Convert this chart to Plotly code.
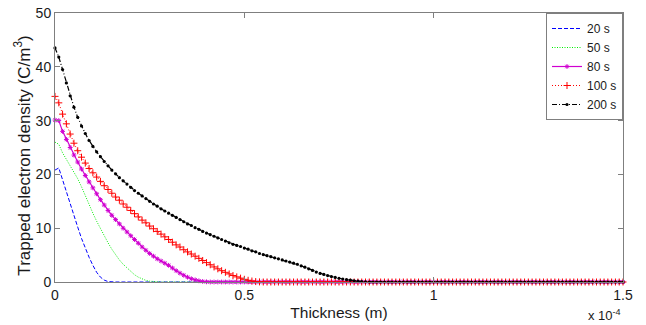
import plotly.graph_objects as go

# Thickness samples, in units of 1e-4 m
THICKNESS = [
    0.00, 0.01, 0.02, 0.03, 0.04, 0.05, 0.06, 0.07, 0.08, 0.09,
    0.10, 0.11, 0.12, 0.13, 0.14, 0.15, 0.16, 0.17, 0.18, 0.19,
    0.20, 0.21, 0.22, 0.23, 0.24, 0.25, 0.26, 0.27, 0.28, 0.29,
    0.30, 0.31, 0.32, 0.33, 0.34, 0.35, 0.36, 0.37, 0.38, 0.39,
    0.40, 0.41, 0.42, 0.43, 0.44, 0.45, 0.46, 0.47, 0.48, 0.49,
    0.50, 0.51, 0.52, 0.53, 0.54, 0.55, 0.56, 0.57, 0.58, 0.59,
    0.60, 0.61, 0.62, 0.63, 0.64, 0.65, 0.66, 0.67, 0.68, 0.69,
    0.70, 0.71, 0.72, 0.73, 0.74, 0.75, 0.76, 0.77, 0.78, 0.79,
    0.80, 0.81, 0.82, 0.83, 0.84, 0.85, 0.86, 0.87, 0.88, 0.89,
    0.90, 0.91, 0.92, 0.93, 0.94, 0.95, 0.96, 0.97, 0.98, 0.99,
    1.00, 1.01, 1.02, 1.03, 1.04, 1.05, 1.06, 1.07, 1.08, 1.09,
    1.10, 1.11, 1.12, 1.13, 1.14, 1.15, 1.16, 1.17, 1.18, 1.19,
    1.20, 1.21, 1.22, 1.23, 1.24, 1.25, 1.26, 1.27, 1.28, 1.29,
    1.30, 1.31, 1.32, 1.33, 1.34, 1.35, 1.36, 1.37, 1.38, 1.39,
    1.40, 1.41, 1.42, 1.43, 1.44, 1.45, 1.46, 1.47, 1.48, 1.49,
    1.50,
]

RHO_20S = [
    20.8, 21.2, 19.0, 16.7, 14.5, 12.3, 10.2, 8.1, 6.2, 4.6,
    3.1, 1.8, 0.9, 0.35, 0.08,
    0, 0, 0, 0, 0, 0, 0, 0, 0, 0, 0, 0, 0, 0, 0, 0, 0, 0, 0, 0,
    0, 0, 0, 0, 0, 0, 0, 0, 0, 0, 0, 0, 0, 0, 0, 0, 0, 0, 0, 0,
    0, 0, 0, 0, 0, 0, 0, 0, 0, 0, 0, 0, 0, 0, 0, 0, 0, 0, 0, 0,
    0, 0, 0, 0, 0, 0, 0, 0, 0, 0, 0, 0, 0, 0, 0, 0, 0, 0, 0, 0,
    0, 0, 0, 0, 0, 0, 0, 0, 0, 0, 0, 0, 0, 0, 0, 0, 0, 0, 0, 0,
    0, 0, 0, 0, 0, 0, 0, 0, 0, 0, 0, 0, 0, 0, 0, 0, 0, 0, 0, 0,
    0, 0, 0, 0, 0, 0, 0, 0, 0, 0, 0, 0, 0, 0, 0, 0,
]

RHO_50S = [
    26.0, 25.6, 24.0, 22.8, 21.7, 20.6, 19.2, 17.7, 16.0, 14.4,
    12.8, 11.3, 9.9, 8.5, 7.3, 6.1, 5.0, 4.1, 3.3, 2.6,
    1.9, 1.35, 0.9, 0.55, 0.3, 0.15, 0.06,
    0, 0, 0, 0, 0, 0, 0, 0, 0, 0, 0, 0, 0, 0, 0, 0, 0, 0, 0, 0,
    0, 0, 0, 0, 0, 0, 0, 0, 0, 0, 0, 0, 0, 0, 0, 0, 0, 0, 0, 0,
    0, 0, 0, 0, 0, 0, 0, 0, 0, 0, 0, 0, 0, 0, 0, 0, 0, 0, 0, 0,
    0, 0, 0, 0, 0, 0, 0, 0, 0, 0, 0, 0, 0, 0, 0, 0, 0, 0, 0, 0,
    0, 0, 0, 0, 0, 0, 0, 0, 0, 0, 0, 0, 0, 0, 0, 0, 0, 0, 0, 0,
    0, 0, 0, 0, 0, 0, 0, 0, 0, 0, 0, 0, 0, 0, 0, 0, 0, 0, 0, 0,
    0, 0, 0, 0,
]

RHO_80S = [
    30.1, 30.0, 28.0, 26.5, 25.0, 23.6, 22.3, 21.0, 19.8, 18.6,
    17.5, 16.4, 15.3, 14.3, 13.3, 12.4, 11.6, 10.8, 10.0, 9.3,
    8.6, 7.9, 7.2, 6.5, 5.9, 5.3, 4.8, 4.3, 3.9, 3.5,
    3.1, 2.6, 2.1, 1.65, 1.25, 0.9, 0.6, 0.4, 0.22, 0.1,
    0.03,
    0, 0, 0, 0, 0, 0, 0, 0, 0, 0, 0, 0, 0, 0, 0, 0, 0, 0, 0, 0,
    0, 0, 0, 0, 0, 0, 0, 0, 0, 0, 0, 0, 0, 0, 0, 0, 0, 0, 0, 0,
    0, 0, 0, 0, 0, 0, 0, 0, 0, 0, 0, 0, 0, 0, 0, 0, 0, 0, 0, 0,
    0, 0, 0, 0, 0, 0, 0, 0, 0, 0, 0, 0, 0, 0, 0, 0, 0, 0, 0, 0,
    0, 0, 0, 0, 0, 0, 0, 0, 0, 0, 0, 0, 0, 0, 0, 0, 0, 0, 0, 0,
    0, 0, 0, 0, 0, 0, 0, 0, 0, 0,
]

RHO_100S = [
    34.5, 33.3, 31.2, 29.4, 27.5, 25.8, 24.4, 23.2, 22.1, 21.1,
    20.3, 19.5, 18.7, 17.9, 17.2, 16.5, 15.8, 15.2, 14.5, 13.9,
    13.3, 12.7, 12.1, 11.5, 11.0, 10.4, 9.9, 9.4, 8.9, 8.4,
    7.9, 7.4, 6.9, 6.5, 6.0, 5.6, 5.2, 4.8, 4.4, 4.0,
    3.6, 3.2, 2.8, 2.45, 2.1, 1.8, 1.5, 1.2, 0.95, 0.72,
    0.5, 0.32, 0.18, 0.08, 0.02,
    0, 0, 0, 0, 0, 0, 0, 0, 0, 0, 0, 0, 0, 0, 0, 0, 0, 0, 0, 0,
    0, 0, 0, 0, 0, 0, 0, 0, 0, 0, 0, 0, 0, 0, 0, 0, 0, 0, 0, 0,
    0, 0, 0, 0, 0, 0, 0, 0, 0, 0, 0, 0, 0, 0, 0, 0, 0, 0, 0, 0,
    0, 0, 0, 0, 0, 0, 0, 0, 0, 0, 0, 0, 0, 0, 0, 0, 0, 0, 0, 0,
    0, 0, 0, 0, 0, 0, 0, 0, 0, 0, 0, 0, 0, 0, 0, 0,
]

RHO_200S = [
    43.5, 41.8, 39.5, 37.0, 34.6, 32.5, 30.6, 29.0, 27.6, 26.3,
    25.2, 24.2, 23.3, 22.4, 21.6, 20.8, 20.1, 19.4, 18.8, 18.2,
    17.6, 17.0, 16.5, 16.0, 15.5, 15.0, 14.5, 14.1, 13.6, 13.2,
    12.8, 12.4, 12.0, 11.6, 11.2, 10.8, 10.5, 10.1, 9.8, 9.4,
    9.1, 8.8, 8.5, 8.2, 7.9, 7.6, 7.3, 7.0, 6.8, 6.6,
    6.3, 6.1, 5.8, 5.6, 5.3, 5.1, 4.9, 4.7, 4.5, 4.3,
    4.1, 3.9, 3.7, 3.5, 3.3, 3.0, 2.75, 2.45, 2.15, 1.85,
    1.6, 1.4, 1.2, 1.0, 0.85, 0.7, 0.56, 0.44, 0.33, 0.23,
    0.15, 0.08, 0.03,
    0, 0, 0, 0, 0, 0, 0, 0, 0, 0, 0, 0, 0, 0, 0, 0, 0, 0, 0, 0,
    0, 0, 0, 0, 0, 0, 0, 0, 0, 0, 0, 0, 0, 0, 0, 0, 0, 0, 0, 0,
    0, 0, 0, 0, 0, 0, 0, 0, 0, 0, 0, 0, 0, 0, 0, 0, 0, 0, 0, 0,
    0, 0, 0, 0, 0, 0, 0, 0,
]

SERIES_NAMES = ["20 s", "50 s", "80 s", "100 s", "200 s"]
X_TICKS = [0, 0.5, 1, 1.5]
X_TICK_TEXT = ["0", "0.5", "1", "1.5"]
Y_TICKS = [0, 10, 20, 30, 40, 50]

for s in (RHO_20S, RHO_50S, RHO_80S, RHO_100S, RHO_200S):
    assert len(s) == len(THICKNESS), len(s)

FONT = "Liberation Sans, Arial, Helvetica, sans-serif"
AXIS_COLOR = "#7f7f7f"
TEXT_COLOR = "#1a1a1a"

styles = [
    dict(mode="lines", line=dict(color="#0000ff", width=1, dash="4px,2px")),
    dict(mode="lines", line=dict(color="#00ee00", width=1, dash="1px,1.5px")),
    dict(mode="lines+markers", line=dict(color="#d000d0", width=1.2),
         marker=dict(symbol="asterisk-open", size=4, color="#d000d0",
                     line=dict(color="#d000d0", width=1))),
    dict(mode="lines+markers", line=dict(color="#ff0000", width=1, dash="1px,2px"),
         marker=dict(symbol="cross-thin-open", size=5, color="#ff0000",
                     line=dict(color="#ff0000", width=1))),
    dict(mode="lines+markers", line=dict(color="#000000", width=1.2, dash="5px,2px,1px,2px"),
         marker=dict(symbol="circle", size=3.2, color="#000000", line=dict(width=0))),
]

fig = go.Figure()
for name, ys, st in zip(SERIES_NAMES,
                        [RHO_20S, RHO_50S, RHO_80S, RHO_100S, RHO_200S], styles):
    fig.add_trace(go.Scatter(x=THICKNESS, y=ys, name=name, cliponaxis=False, **st))

fig.update_layout(
    width=646, height=325,
    margin=dict(l=55, r=23, t=13, b=43),
    paper_bgcolor="white", plot_bgcolor="white",
    font=dict(family=FONT, size=14, color=TEXT_COLOR),
    showlegend=True,
    legend=dict(x=1, y=1, xanchor="right", yanchor="top",
                bgcolor="white", bordercolor=AXIS_COLOR, borderwidth=1,
                font=dict(family=FONT, size=12, color=TEXT_COLOR),
                tracegroupgap=0, itemwidth=30),
)

fig.update_xaxes(
    range=[0, 1.5], tickvals=X_TICKS, ticktext=X_TICK_TEXT, automargin=False,
    showgrid=False, zeroline=False, showline=True, linecolor=AXIS_COLOR, linewidth=1,
    mirror="ticks", ticks="inside", ticklen=5, tickcolor=AXIS_COLOR,
    tickfont=dict(size=14, color=TEXT_COLOR),
    title=dict(text="Thickness (m)", font=dict(size=15.5, color=TEXT_COLOR), standoff=5),
)
fig.update_yaxes(
    range=[0, 50], tickvals=Y_TICKS, automargin=False,
    showgrid=False, zeroline=False, showline=True, linecolor=AXIS_COLOR, linewidth=1,
    mirror="ticks", ticks="inside", ticklen=5, tickcolor=AXIS_COLOR,
    tickfont=dict(size=14, color=TEXT_COLOR),
)

# y-axis title (placed as rotated text so it can sit slightly below centre, as in the original)
fig.add_annotation(
    text="Trapped electron density (C/m<sup>3</sup>)", xref="paper", yref="paper",
    x=-0.058, y=0.47, xanchor="center", yanchor="middle", textangle=-90,
    showarrow=False, font=dict(family=FONT, size=17, color=TEXT_COLOR),
)

fig.add_annotation(
    text="x 10<sup>-4</sup>", xref="paper", yref="paper",
    x=1.0, y=-0.123, xanchor="right", yanchor="middle", showarrow=False,
    font=dict(family=FONT, size=13, color=TEXT_COLOR),
)

fig.write_html(
    "out.html",
    config={"displayModeBar": False},
    post_script="document.body.style.margin='0';document.body.style.overflow='hidden';",
)
